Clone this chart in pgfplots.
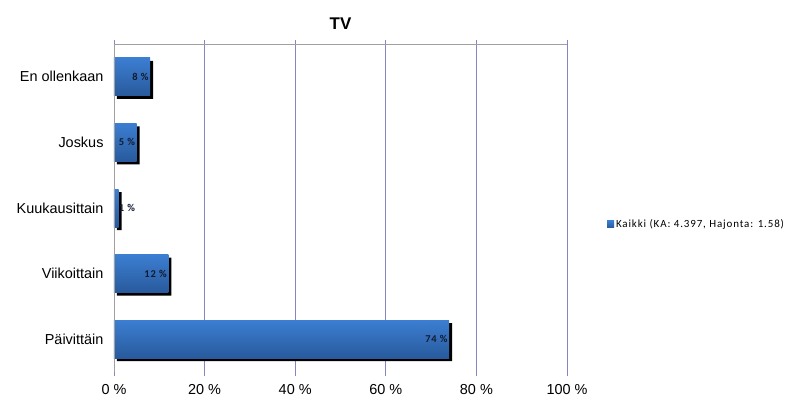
\documentclass[border=0pt]{standalone}
\usepackage{pgfplots}
\pgfplotsset{compat=1.18}
\usepackage{fontspec}
\setmainfont{Liberation Sans}
\newfontfamily\calfont{Carlito}[LetterSpace=8]
\definecolor{gridc}{RGB}{134,134,196}
\definecolor{axc}{RGB}{160,160,160}
\definecolor{barTop}{RGB}{60,126,210}
\definecolor{barBot}{RGB}{40,90,156}
\definecolor{barMid}{RGB}{52,110,186}
\definecolor{labc}{RGB}{18,26,48}
\begin{document}
\begin{tikzpicture}
\path[use as bounding box] (-114bp,-29bp) rectangle (679bp,372bp);
\begin{axis}[
  at={(0bp,0bp)}, anchor=south west,
  scale only axis, width=453bp, height=328bp,
  xmin=0, xmax=100, ymin=-0.5, ymax=4.5,
  axis line style={draw=none},
  xmajorgrids, grid style={draw=gridc, line width=0.8bp},
  xtick={0,20,40,60,80,100},
  xticklabel={\pgfmathprintnumber{\tick}~\%},
  /pgf/number format/assume math mode=true,
  xtick style={draw=gridc, line width=0.8bp},
  tick align=outside, major tick length=4bp,
  xticklabel style={font=\fontsize{14.5}{14.5}\selectfont, yshift=-5bp},
  ytick={0,1,2,3,4},
  yticklabels={Päivittäin,Viikoittain,Kuukausittain,Joskus,En ollenkaan},
  yticklabel style={font=\fontsize{14.5}{14.5}\selectfont, xshift=-3bp},
  ytick style={draw=none},
  title={TV},
  title style={font=\bfseries\fontsize{17}{17}\selectfont, yshift=5bp},
  legend style={at={(1.088,0.451)}, anchor=west, draw=none, fill=none,
    font=\calfont\fontsize{11}{11}\selectfont, inner sep=0pt},
  legend cell align=left,
  legend image code/.code={\fill[barMid] (0bp,-3.5bp) rectangle (7bp,3.5bp);},
  after end axis/.code={
    \draw[axc, line width=0.8bp] (rel axis cs:0,0) -- (rel axis cs:0,1) -- (rel axis cs:1,1);
  },
  bstyle/.style={xbar, bar shift=0pt, bar width=38bp, draw=none,
    top color=barTop, bottom color=barBot},
]
\addplot[xbar, bar shift=0pt, bar width=38bp, fill=black, draw=none,
  xshift=3bp, yshift=-3bp, forget plot]
  coordinates {(74,0) (12,1) (1,2) (5,3) (8,4)};
\addplot[bstyle] coordinates {(74,0)};
\addlegendentry{Kaikki (KA: 4.397, Hajonta: 1.58)}
\addplot[bstyle, forget plot] coordinates {(12,1)};
\addplot[bstyle, forget plot] coordinates {(1,2)};
\addplot[bstyle, forget plot] coordinates {(5,3)};
\addplot[bstyle, forget plot] coordinates {(8,4)};
\addplot[draw=none, mark=none, forget plot,
  nodes near coords, point meta=explicit symbolic,
  nodes near coords style={anchor=east, text=labc, inner sep=1.5bp,
    font=\calfont\bfseries\fontsize{10.5}{10.5}\selectfont}]
  coordinates {(74,0) [74 \%] (12,1) [12 \%] (5,2) [1 \%] (5,3) [5 \%] (8,4) [8 \%]};
\end{axis}
\end{tikzpicture}
\end{document}
